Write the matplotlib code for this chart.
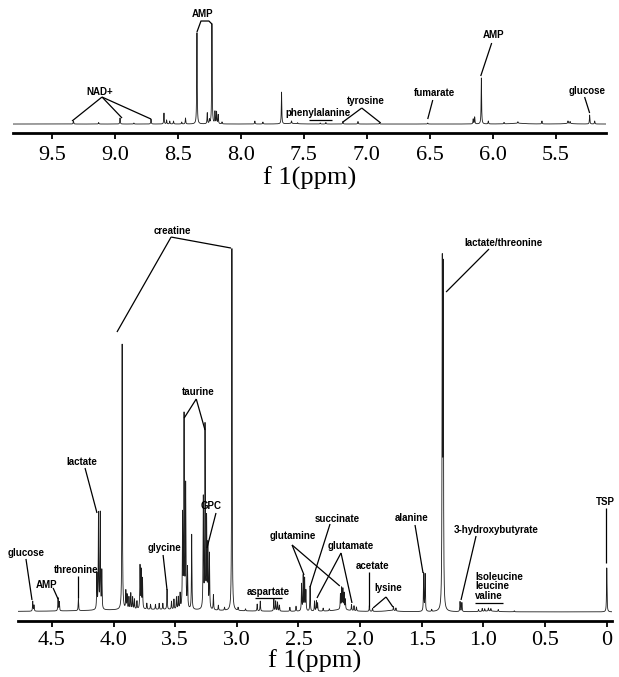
import numpy as np
import matplotlib
matplotlib.use("Agg")
import matplotlib.pyplot as plt

# ---------------------------------------------------------------
# 1H NMR spectrum, aromatic region (top) and aliphatic region (bottom)
# peak positions in ppm, intensities in arbitrary units
# ---------------------------------------------------------------
low_ppm = [9.33, 9.13, 8.96, 8.85, 8.714, 8.611, 8.59, 8.565, 8.535, 8.47,
           8.44, 8.349, 8.267, 8.25, 8.23, 8.206, 8.193, 8.18, 8.15, 7.889,
           7.825, 7.677, 7.598, 7.55, 7.37, 7.325, 7.19, 7.07, 6.90, 6.516,
           6.155, 6.143, 6.09, 6.035, 5.91, 5.80, 5.609, 5.402, 5.385, 5.23,
           5.19]
low_int = [3, 1.5, 6, 1, 5, 11, 4, 3, 3, 2,
           6, 92, 11, 4, 100, 12, 12, 9, 2, 3,
           2, 32, 2.5, 1, 1, 1.5, 2.5, 2.5, 1, 1,
           5, 7, 46, 3, 1.5, 1.5, 3, 2.5, 2, 9,
           3]

# broad humps in the aromatic region (centre, height, half-width)
low_hump_ppm = [7.6, 5.8, 5.4]
low_hump_int = [0.6, 0.8, 0.6]
low_hump_w = [0.05, 0.06, 0.04]

high_ppm = [4.655, 4.645, 4.45, 4.44, 4.285, 4.135, 4.122, 4.108, 4.095,
            3.93, 3.90, 3.89, 3.875, 3.86, 3.845, 3.83, 3.81,
            3.785, 3.775, 3.765, 3.73, 3.70, 3.66, 3.63, 3.60,
            3.566, 3.53, 3.51, 3.49, 3.475, 3.46,
            3.44, 3.428, 3.415, 3.40, 3.366,
            3.272, 3.258, 3.245, 3.235, 3.222, 3.19, 3.15, 3.10,
            3.04, 2.99, 2.93,
            2.835, 2.81, 2.70, 2.685, 2.67, 2.655, 2.57, 2.52,
            2.475, 2.462, 2.45, 2.44, 2.406, 2.37, 2.355, 2.345, 2.30, 2.25,
            2.16, 2.15, 2.14, 2.13, 2.12, 2.07, 2.05, 2.03,
            1.925, 1.90, 1.73, 1.71,
            1.485, 1.473, 1.42, 1.334, 1.326,
            1.19, 1.175, 1.04, 1.01, 0.99, 0.96, 0.94, 0.88, 0.75,
            0.0]
high_int = [10, 6, 13, 9, 12, 35, 96, 96, 38,
            266, 18, 14, 12, 16, 12, 10, 8,
            43, 38, 30, 6, 5, 5, 6, 6,
            20, 8, 10, 12, 12, 15,
            92, 192, 122, 40, 75,
            110, 182, 88, 62, 55, 15, 5, 3,
            364, 3, 2,
            7, 10, 12, 10, 9, 6, 4, 5,
            27, 35, 32, 20, 25, 10, 10, 8, 3, 2,
            15, 21, 20, 16, 10, 6, 5, 4,
            6, 3, 4, 3,
            38, 37, 2, 335, 330,
            10, 9, 2, 3, 2.5, 3, 2.5, 2, 1,
            44]

# broad background in the aliphatic region (centre, height, half-width)
high_hump_ppm = [3.7, 2.15, 1.75, 0.95]
high_hump_int = [2.5, 2.0, 1.2, 0.8]
high_hump_w = [0.6, 0.08, 0.05, 0.06]

low_ticks = [9.5, 9.0, 8.5, 8.0, 7.5, 7.0, 6.5, 6.0, 5.5]
low_tick_labels = ["9.5", "9.0", "8.5", "8.0", "7.5", "7.0", "6.5", "6.0", "5.5"]
high_ticks = [4.5, 4.0, 3.5, 3.0, 2.5, 2.0, 1.5, 1.0, 0.5, 0.0]
high_tick_labels = ["4.5", "4.0", "3.5", "3.0", "2.5", "2.0", "1.5", "1.0", "0.5", "0"]

LINE_HW = 0.0022  # Lorentzian half-width of the sharp resonances (ppm)


def spectrum(x, centres, heights, hw, hump_c, hump_h, hump_w):
    y = np.zeros_like(x)
    for c, h in zip(centres, heights):
        y += h / (1.0 + ((x - c) / hw) ** 2)
    for c, h, w in zip(hump_c, hump_h, hump_w):
        y += h / (1.0 + ((x - c) / w) ** 2)
    return y


serif = ["Liberation Serif", "DejaVu Serif"]
sans = ["Liberation Sans", "DejaVu Sans"]
LBL = dict(fontsize=7, fontweight="bold", family=sans, ha="center", va="center")
LN = dict(color="black", lw=0.9, solid_capstyle="butt")

fig = plt.figure(figsize=(6.19, 6.77), dpi=100)

ax1 = fig.add_axes([0.021, 0.8035, 0.958, 0.1817])
ax2 = fig.add_axes([0.0286, 0.0832, 0.9596, 0.577])

x1 = np.linspace(9.85, 5.05, 12001)
y1 = spectrum(x1, low_ppm, low_int, LINE_HW, low_hump_ppm, low_hump_int, low_hump_w)
ax1.plot(x1, y1, color="#1c1c1c", lw=0.6)
ax1.set_xlim(9.81, 5.10)
ax1.set_ylim(-9, 114)

x2 = np.linspace(4.82, -0.06, 14001)
y2 = spectrum(x2, high_ppm, high_int, LINE_HW, high_hump_ppm, high_hump_int, high_hump_w)
ax2.plot(x2, y2, color="#1c1c1c", lw=0.6)
ax2.set_xlim(4.777, -0.04)
ax2.set_ylim(-8.7, 382)

for ax, ticks, labels, ypos, pad in ((ax1, low_ticks, low_tick_labels, -0.37, 5),
                                     (ax2, high_ticks, high_tick_labels, -0.1035, 3.5)):
    for side in ("top", "left", "right"):
        ax.spines[side].set_visible(False)
    ax.spines["bottom"].set_linewidth(2.0)
    ax.set_yticks([])
    ax.set_xticks(ticks)
    ax.set_xticklabels(labels, family=serif, fontsize=16)
    ax.tick_params(axis="x", direction="out", length=4, width=1.3, pad=pad)
    ax.set_xlabel("f 1(ppm)", family=serif, fontsize=19, va="center")
    ax.xaxis.set_label_coords(0.5, ypos)
    ax.patch.set_visible(False)


def note(ax, text, tx, ty, *paths, **kw):
    opts = dict(LBL)
    opts.update(kw)
    ax.text(tx, ty, text, clip_on=False, **opts)
    for p in paths:
        xs, ys = zip(*p)
        ax.plot(xs, ys, clip_on=False, **LN)


# aromatic region assignments
note(ax1, "NAD+", 9.119, 32,
     [(9.103, 27), (9.341, 3)], [(9.103, 27), (8.944, 6)], [(9.103, 27), (8.714, 5)])
note(ax1, "AMP", 8.302, 110,
     [(8.349, 92), (8.317, 103), (8.254, 103), (8.230, 100)])
note(ax1, "phenylalanine", 7.389, 11, [(7.460, 4), (7.278, 4)])
note(ax1, "tyrosine", 7.008, 23,
     [(7.040, 16), (7.190, 2)], [(7.040, 16), (6.889, 1)])
note(ax1, "fumarate", 6.460, 31, [(6.476, 24), (6.516, 5)])
note(ax1, "AMP", 5.992, 89, [(6.008, 81), (6.095, 48)])
note(ax1, "glucose", 5.246, 33, [(5.270, 27), (5.230, 11)])

# aliphatic region assignments
note(ax2, "glucose", 4.710, 59, [(4.710, 53), (4.661, 12)])
note(ax2, "AMP", 4.539, 27, [(4.490, 24), (4.450, 13)])
note(ax2, "threonine", 4.304, 42, [(4.288, 36), (4.288, 14)])
note(ax2, "lactate", 4.255, 150, [(4.231, 144), (4.134, 99)])
note(ax2, "creatine", 3.525, 381,
     [(3.533, 375), (3.972, 280)], [(3.533, 375), (3.047, 364)])
note(ax2, "taurine", 3.313, 220,
     [(3.329, 213), (3.427, 194)], [(3.329, 213), (3.258, 182)])
note(ax2, "GPC", 3.209, 106, [(3.169, 99), (3.242, 64)])
note(ax2, "glycine", 3.590, 64, [(3.598, 57), (3.566, 22)])
note(ax2, "aspartate", 2.747, 20, [(2.85, 14), (2.63, 14)])
note(ax2, "glutamine", 2.544, 76,
     [(2.552, 67), (2.455, 37)], [(2.552, 67), (2.165, 26)])
note(ax2, "succinate", 2.188, 93, [(2.244, 88), (2.406, 25)])
note(ax2, "glutamate", 2.074, 66,
     [(2.155, 59), (2.350, 14)], [(2.155, 59), (2.066, 9)])
note(ax2, "acetate", 1.896, 46, [(1.928, 40), (1.928, 5)])
note(ax2, "lysine", 1.774, 24,
     [(1.790, 15), (1.895, 4)], [(1.790, 15), (1.734, 5)])
note(ax2, "alanine", 1.579, 94, [(1.555, 87), (1.490, 39)])
note(ax2, "lactate/threonine", 0.841, 369, [(0.955, 363), (1.303, 320)])
note(ax2, "3-hydroxybutyrate", 0.898, 82, [(1.060, 76), (1.182, 12)])
note(ax2, "Isoleucine", 1.068, 35, ha="left")
note(ax2, "leucine", 1.068, 26, ha="left")
note(ax2, "valine", 1.068, 16, [(1.068, 9), (0.841, 9)], ha="left")
note(ax2, "TSP", 0.014, 110, [(0.006, 104), (0.006, 49)])

fig.savefig("out.png", dpi=100, facecolor="white")
